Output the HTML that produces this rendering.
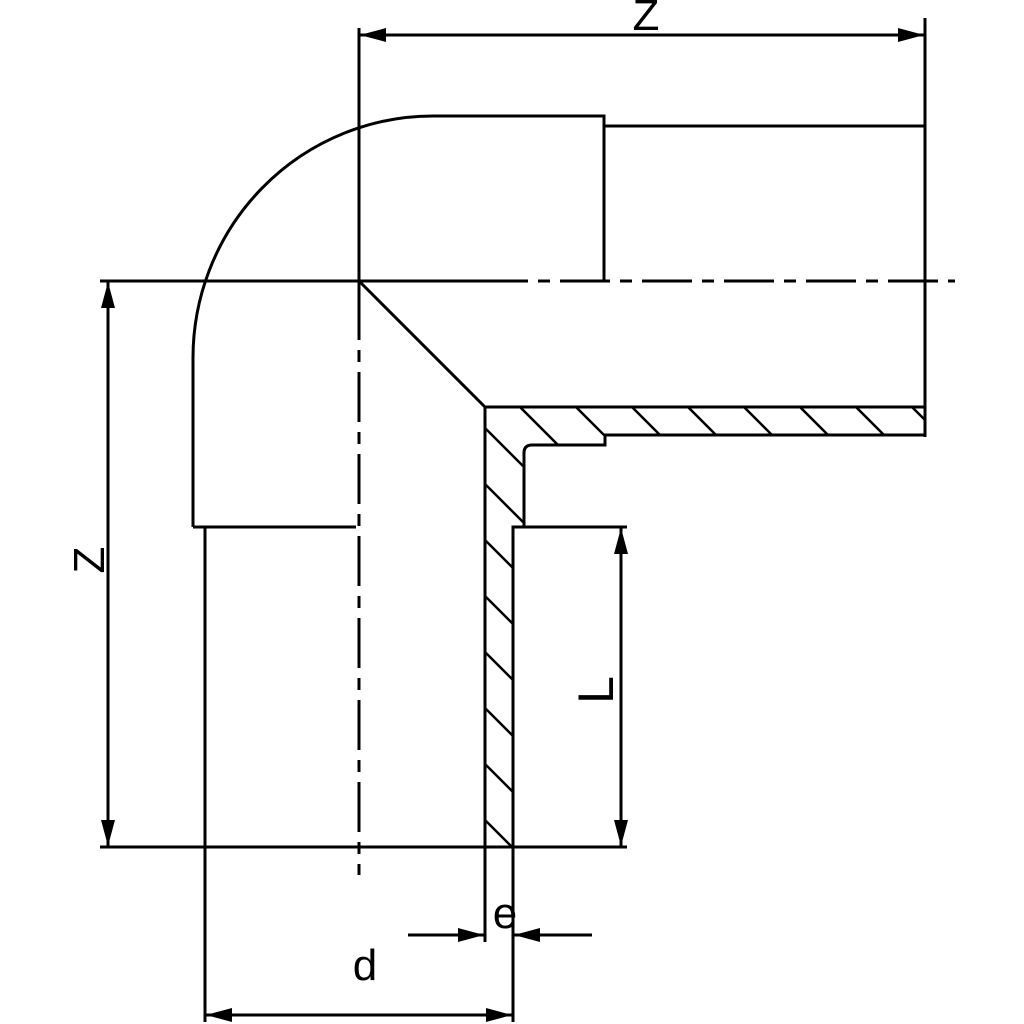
<!DOCTYPE html>
<html><head><meta charset="utf-8"><style>html,body{margin:0;padding:0;background:#fff;overflow:hidden}svg{display:block}</style></head>
<body>
<svg width="1024" height="1024" viewBox="0 0 1024 1024" xmlns="http://www.w3.org/2000/svg">
<defs>
<clipPath id="hc"><path d="M485,407 L924,407 L924,435 L605,435 L605,445 L532,445 Q524,445 524,453 L524,527 L513,527 L513,847 L485,847 Z"/></clipPath>
<marker id="a" viewBox="0 0 26 14" refX="26" refY="7" markerWidth="26" markerHeight="14" markerUnits="userSpaceOnUse" orient="auto-start-reverse"><path d="M0,0 L26,7 L0,14 Z" fill="#000"/></marker>
</defs>
<g stroke="#000" stroke-width="3" fill="none">
<line x1="100" y1="281" x2="478" y2="281"/>
<line x1="478" y1="281" x2="955" y2="281" stroke-dasharray="50,10,12,10"/>
<line x1="359" y1="28" x2="359" y2="290"/>
<line x1="359" y1="290" x2="359" y2="875" stroke-dasharray="50,10,12,10"/>
<path d="M193,527 L193,360 A240,242 0 0 1 433,116 L604,116 L604,281"/>
<line x1="193" y1="527" x2="356" y2="527"/>
<line x1="604" y1="126" x2="925" y2="126"/>
<line x1="925" y1="18" x2="925" y2="437"/>
<line x1="359" y1="281" x2="485" y2="407"/>
<path d="M485,847 L485,407 L924,407 M924,435 L605,435 L605,445 L532,445 Q524,445 524,453 L524,527 L513,527 L513,1022"/>
<line x1="513" y1="527" x2="627" y2="527"/>
<line x1="205" y1="527" x2="205" y2="1022"/>
<line x1="100" y1="847" x2="627" y2="847"/>
<line x1="485" y1="847" x2="485" y2="942"/>
<g clip-path="url(#hc)" stroke-width="2.5">
<line x1="0" y1="-561" x2="1500" y2="939"/>
<line x1="0" y1="-505" x2="1500" y2="995"/>
<line x1="0" y1="-449" x2="1500" y2="1051"/>
<line x1="0" y1="-393" x2="1500" y2="1107"/>
<line x1="0" y1="-337" x2="1500" y2="1163"/>
<line x1="0" y1="-281" x2="1500" y2="1219"/>
<line x1="0" y1="-225" x2="1500" y2="1275"/>
<line x1="0" y1="-169" x2="1500" y2="1331"/>
<line x1="0" y1="-113" x2="1500" y2="1387"/>
<line x1="0" y1="-57" x2="1500" y2="1443"/>
<line x1="0" y1="-1" x2="1500" y2="1499"/>
<line x1="0" y1="55" x2="1500" y2="1555"/>
<line x1="0" y1="111" x2="1500" y2="1611"/>
<line x1="0" y1="167" x2="1500" y2="1667"/>
<line x1="0" y1="223" x2="1500" y2="1723"/>
<line x1="0" y1="279" x2="1500" y2="1779"/>
<line x1="0" y1="335" x2="1500" y2="1835"/>
<line x1="0" y1="391" x2="1500" y2="1891"/>
<line x1="0" y1="447" x2="1500" y2="1947"/>
<line x1="0" y1="503" x2="1500" y2="2003"/>
<line x1="0" y1="559" x2="1500" y2="2059"/>
<line x1="0" y1="615" x2="1500" y2="2115"/>
<line x1="0" y1="671" x2="1500" y2="2171"/>
<line x1="0" y1="727" x2="1500" y2="2227"/>
<line x1="0" y1="783" x2="1500" y2="2283"/>
<line x1="0" y1="839" x2="1500" y2="2339"/>
</g>
<line x1="360" y1="35" x2="924" y2="35" marker-start="url(#a)" marker-end="url(#a)"/>
<line x1="108" y1="282" x2="108" y2="846" marker-start="url(#a)" marker-end="url(#a)"/>
<line x1="621" y1="528" x2="621" y2="846" marker-start="url(#a)" marker-end="url(#a)"/>
<line x1="206" y1="1015" x2="512" y2="1015" marker-start="url(#a)" marker-end="url(#a)"/>
<line x1="408" y1="935" x2="484" y2="935" marker-end="url(#a)"/>
<line x1="592" y1="935" x2="514" y2="935" marker-end="url(#a)"/>
</g>
<g font-family="Liberation Sans, sans-serif" font-size="44" fill="#000">
<text x="646" y="30" text-anchor="middle">Z</text>
<text x="88" y="576" text-anchor="middle" transform="rotate(-90 88 560)">Z</text>
<text x="595" y="708" text-anchor="middle" font-size="50" transform="rotate(-90 595 690)">L</text>
<text x="505" y="928" text-anchor="middle">e</text>
<text x="365" y="980" text-anchor="middle">d</text>
</g>
</svg>
</body></html>
